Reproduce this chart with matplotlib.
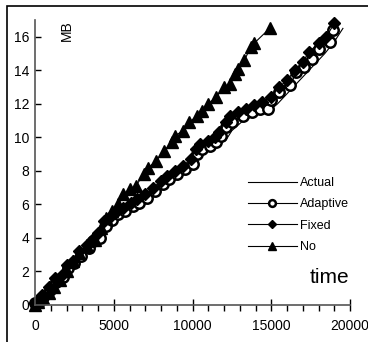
import matplotlib.pyplot as plt
from matplotlib.patches import Rectangle
from matplotlib.ticker import MultipleLocator

plt.rcParams['font.family'] = ['Liberation Sans', 'DejaVu Sans']

# Actual (line only)
actual_x = [0, 600, 1200, 2000, 2500, 3000, 3500, 4000, 4400, 4800, 5400, 6000, 6600, 7200,
            7800, 8400, 9000, 9600, 10000, 10500, 11000, 11600, 12100, 12500, 13100, 13700,
            14300, 14900, 15400, 16000, 16600, 17200, 17800, 18400, 19000, 19550]
actual_y = [0, 0.3, 0.8, 1.8, 2.3, 3.0, 3.3, 3.6, 4.3, 5.0, 5.3, 5.5, 5.9, 6.3,
            6.8, 7.2, 7.5, 7.9, 8.3, 9.0, 9.3, 9.6, 9.8, 10.4, 10.9, 11.2,
            11.4, 11.6, 12.0, 12.6, 13.2, 13.8, 14.4, 15.0, 15.7, 16.5]

# Adaptive (open circles)
adaptive_x = [0, 250, 500, 950, 1350, 1750, 2100, 2500, 2900, 3400, 3700, 4100, 4500, 4900,
              5300, 5700, 6200, 6600, 7100, 7600, 8100, 8500, 9000, 9500, 10000, 10300, 10600,
              11100, 11500, 11800, 12100, 12500, 13200, 13800, 14300, 14800, 15000, 15500,
              16200, 16600, 17100, 17600, 18000, 18700, 18900]
adaptive_y = [0.1, 0.2, 0.5, 0.9, 1.4, 1.7, 2.2, 2.5, 2.9, 3.4, 3.8, 4.0, 4.7, 5.1,
              5.4, 5.6, 5.9, 6.1, 6.4, 6.8, 7.2, 7.5, 7.8, 8.1, 8.4, 9.0, 9.3,
              9.5, 9.7, 10.1, 10.6, 10.9, 11.3, 11.5, 11.7, 11.7, 12.2, 12.7,
              13.1, 13.9, 14.2, 14.7, 15.3, 15.7, 16.4]

# Fixed (diamonds)
fixed_x = [0, 200, 450, 900, 1300, 1700, 2000, 2400, 2800, 3300, 3600, 4000, 4400, 4800,
           5200, 5600, 6100, 6500, 7000, 7500, 8000, 8400, 8900, 9400, 9900, 10200, 10500,
           11000, 11400, 11700, 12100, 12400, 12900, 13400, 13900, 14400, 15000, 15500,
           16000, 16500, 17000, 17400, 18000, 18500, 19000]
fixed_y = [0.1, 0.3, 0.6, 1.1, 1.6, 1.8, 2.4, 2.6, 3.2, 3.6, 3.9, 4.3, 5.0, 5.3,
           5.6, 5.8, 6.1, 6.3, 6.6, 7.0, 7.4, 7.7, 8.0, 8.3, 8.7, 9.3, 9.6,
           9.8, 10.0, 10.3, 10.9, 11.3, 11.5, 11.7, 11.9, 12.1, 12.4, 13.0,
           13.4, 14.0, 14.5, 15.1, 15.6, 16.0, 16.8]

# No (triangles)
no_x = [0, 200, 500, 900, 1200, 1600, 2000, 2400, 2800, 3300, 3800, 4200, 4500, 4900,
        5300, 5600, 6000, 6400, 6900, 7200, 7700, 8200, 8700, 8900, 9400, 9800, 10300,
        10600, 11000, 11500, 12000, 12400, 12700, 12900, 13300, 13700, 13900, 14900]
no_y = [0, 0.2, 0.4, 0.7, 1.1, 1.5, 2.0, 2.6, 3.1, 3.5, 3.9, 4.6, 5.2, 5.6,
        6.0, 6.6, 6.9, 7.1, 7.8, 8.2, 8.6, 9.2, 9.7, 10.1, 10.4, 10.9, 11.3,
        11.6, 12.0, 12.4, 13.0, 13.2, 13.8, 14.1, 14.6, 15.4, 15.6, 16.5]

fig = plt.figure(figsize=(3.68, 3.42), dpi=100)
ax = fig.add_axes([35 / 368, 37 / 342, 315 / 368, 285 / 342])

ax.plot(actual_x, actual_y, color='black', lw=0.8, label='Actual', clip_on=False)
ax.plot(adaptive_x, adaptive_y, color='black', lw=0.8, marker='o', ms=7.5, mfc='white',
        mec='black', mew=1.8, label='Adaptive', clip_on=False)
ax.plot(fixed_x, fixed_y, color='black', lw=0.8, marker='D', ms=6.5, label='Fixed', clip_on=False)
ax.plot(no_x, no_y, color='black', lw=0.8, marker='^', ms=9, label='No', clip_on=False)

ax.set_xlim(0, 20000)
ax.set_ylim(0, 17)
ax.set_yticks(range(0, 17, 2))
ax.set_xticks([0, 5000, 10000, 15000, 20000])
ax.xaxis.set_minor_locator(MultipleLocator(1000))
ax.tick_params(axis='x', which='major', direction='inout', length=8, width=1, labelsize=10, pad=6)
ax.tick_params(axis='x', which='minor', direction='out', length=4, width=1)
ax.tick_params(axis='y', direction='in', length=4, width=1, labelsize=10, pad=4)
for s in ['top', 'right']:
    ax.spines[s].set_visible(False)
for s in ['left', 'bottom']:
    ax.spines[s].set_color('#555555')
    ax.spines[s].set_linewidth(1.2)

ax.text(0.10, 1.0, 'MB', transform=ax.transAxes, rotation=90, fontsize=10,
        ha='center', va='top')
ax.text(0.935, 0.095, 'time', transform=ax.transAxes, fontsize=15, ha='center', va='center')

ax.legend(loc='upper left', bbox_to_anchor=(0.66, 0.466), frameon=False, fontsize=9,
          handlelength=3.9, handletextpad=0.3, labelspacing=0.74, markerscale=0.65,
          borderaxespad=0)

# border around the figure (cut off at right and bottom)
fig.patches.append(Rectangle((7 / 368, -0.2), 1.2, 1.2 - 6 / 342, transform=fig.transFigure,
                             fill=False, ec='black', lw=1.2))

fig.savefig('out.png', dpi=100)
